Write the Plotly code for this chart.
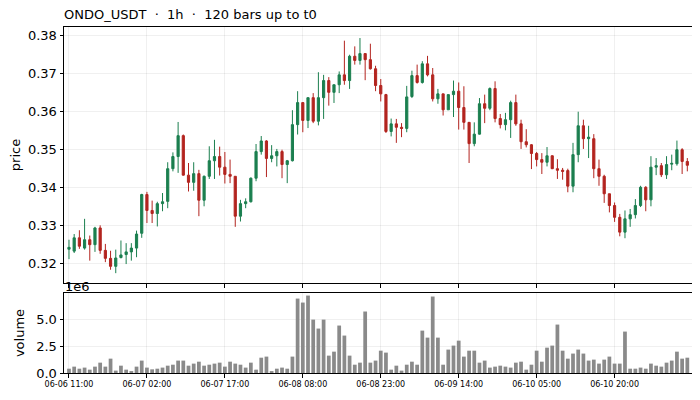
import plotly.graph_objects as go
from plotly.subplots import make_subplots
import pandas as pd

# hourly bars, 120 of them, starting 06-06 11:00
times = pd.date_range("2024-06-06 11:00", periods=120, freq="h")

opens = [
    0.3238, 0.3233, 0.3268, 0.3241, 0.3263, 0.3250, 0.3294, 0.3235, 0.3214, 0.3193,
    0.3216, 0.3224, 0.3231, 0.3241, 0.3280, 0.3382, 0.3340, 0.3332, 0.3358, 0.3364,
    0.3450, 0.3482, 0.3537, 0.3433, 0.3414, 0.3437, 0.3367, 0.3430, 0.3471, 0.3482,
    0.3454, 0.3435, 0.3430, 0.3325, 0.3358, 0.3363, 0.3425, 0.3495, 0.3523, 0.3477,
    0.3484, 0.3495, 0.3461, 0.3471, 0.3566, 0.3624, 0.3577, 0.3637, 0.3575, 0.3637,
    0.3682, 0.3651, 0.3671, 0.3697, 0.3682, 0.3746, 0.3735, 0.3753, 0.3737, 0.3713,
    0.3669, 0.3645, 0.3548, 0.3568, 0.3559, 0.3556, 0.3640, 0.3695, 0.3677, 0.3726,
    0.3697, 0.3634, 0.3647, 0.3605, 0.3645, 0.3654, 0.3611, 0.3572, 0.3516, 0.3541,
    0.3621, 0.3609, 0.3661, 0.3582, 0.3566, 0.3579, 0.3624, 0.3568, 0.3521, 0.3513,
    0.3490, 0.3474, 0.3467, 0.3484, 0.3450, 0.3446, 0.3445, 0.3404, 0.3487, 0.3563,
    0.3529, 0.3529, 0.3450, 0.3430, 0.3384, 0.3353, 0.3322, 0.3283, 0.3318, 0.3329,
    0.3353, 0.3401, 0.3368, 0.3454, 0.3458, 0.3434, 0.3462, 0.3463, 0.3500, 0.3469,
]
highs = [
    0.3263, 0.3278, 0.3288, 0.3318, 0.3274, 0.3297, 0.3301, 0.3252, 0.3234, 0.3237,
    0.3261, 0.3254, 0.3254, 0.3287, 0.3384, 0.3389, 0.3366, 0.3363, 0.3386, 0.3467,
    0.3493, 0.3573, 0.3540, 0.3465, 0.3467, 0.3447, 0.3432, 0.3509, 0.3526, 0.3508,
    0.3494, 0.3474, 0.3430, 0.3368, 0.3372, 0.3427, 0.3515, 0.3536, 0.3525, 0.3512,
    0.3502, 0.3500, 0.3473, 0.3604, 0.3654, 0.3624, 0.3637, 0.3649, 0.3704, 0.3697,
    0.3691, 0.3671, 0.3706, 0.3787, 0.3750, 0.3772, 0.3794, 0.3753, 0.3779, 0.3721,
    0.3686, 0.3647, 0.3582, 0.3581, 0.3570, 0.3668, 0.3708, 0.3724, 0.3733, 0.3747,
    0.3715, 0.3660, 0.3647, 0.3645, 0.3682, 0.3677, 0.3667, 0.3572, 0.3572, 0.3636,
    0.3645, 0.3664, 0.3680, 0.3594, 0.3597, 0.3629, 0.3645, 0.3579, 0.3554, 0.3515,
    0.3494, 0.3491, 0.3507, 0.3485, 0.3475, 0.3452, 0.3450, 0.3518, 0.3600, 0.3579,
    0.3563, 0.3541, 0.3474, 0.3434, 0.3384, 0.3361, 0.3331, 0.3340, 0.3344, 0.3370,
    0.3405, 0.3404, 0.3483, 0.3478, 0.3465, 0.3483, 0.3487, 0.3524, 0.3504, 0.3478,
]
lows = [
    0.3212, 0.3228, 0.3239, 0.3237, 0.3208, 0.3231, 0.3226, 0.3204, 0.3184, 0.3175,
    0.3214, 0.3199, 0.3208, 0.3217, 0.3268, 0.3307, 0.3307, 0.3298, 0.3338, 0.3346,
    0.3443, 0.3439, 0.3432, 0.3390, 0.3392, 0.3325, 0.3351, 0.3423, 0.3423, 0.3432,
    0.3411, 0.3412, 0.3297, 0.3311, 0.3346, 0.3361, 0.3417, 0.3487, 0.3428, 0.3467,
    0.3456, 0.3425, 0.3412, 0.3469, 0.3540, 0.3546, 0.3557, 0.3570, 0.3564, 0.3581,
    0.3616, 0.3623, 0.3649, 0.3671, 0.3660, 0.3724, 0.3724, 0.3683, 0.3711, 0.3654,
    0.3627, 0.3544, 0.3535, 0.3518, 0.3533, 0.3546, 0.3636, 0.3674, 0.3674, 0.3693,
    0.3627, 0.3621, 0.3590, 0.3605, 0.3586, 0.3553, 0.3553, 0.3465, 0.3509, 0.3540,
    0.3570, 0.3604, 0.3572, 0.3556, 0.3551, 0.3531, 0.3563, 0.3502, 0.3506, 0.3449,
    0.3456, 0.3436, 0.3456, 0.3449, 0.3423, 0.3421, 0.3388, 0.3388, 0.3467, 0.3502,
    0.3478, 0.3425, 0.3405, 0.3360, 0.3335, 0.3310, 0.3272, 0.3267, 0.3297, 0.3319,
    0.3349, 0.3338, 0.3351, 0.3433, 0.3428, 0.3423, 0.3446, 0.3458, 0.3436, 0.3443,
]
closes = [
    0.3243, 0.3268, 0.3246, 0.3263, 0.3250, 0.3294, 0.3235, 0.3214, 0.3193, 0.3215,
    0.3223, 0.3231, 0.3241, 0.3278, 0.3382, 0.3340, 0.3332, 0.3358, 0.3363, 0.3450,
    0.3482, 0.3537, 0.3433, 0.3414, 0.3437, 0.3367, 0.3430, 0.3471, 0.3482, 0.3454,
    0.3435, 0.3430, 0.3325, 0.3358, 0.3363, 0.3425, 0.3495, 0.3523, 0.3477, 0.3484,
    0.3495, 0.3461, 0.3471, 0.3566, 0.3624, 0.3577, 0.3637, 0.3575, 0.3637, 0.3682,
    0.3651, 0.3671, 0.3697, 0.3682, 0.3746, 0.3735, 0.3753, 0.3737, 0.3713, 0.3669,
    0.3647, 0.3548, 0.3568, 0.3559, 0.3556, 0.3639, 0.3695, 0.3677, 0.3726, 0.3697,
    0.3634, 0.3647, 0.3605, 0.3645, 0.3654, 0.3611, 0.3572, 0.3516, 0.3541, 0.3621,
    0.3609, 0.3661, 0.3582, 0.3566, 0.3579, 0.3624, 0.3568, 0.3521, 0.3513, 0.3490,
    0.3474, 0.3467, 0.3484, 0.3450, 0.3446, 0.3443, 0.3404, 0.3487, 0.3563, 0.3529,
    0.3533, 0.3450, 0.3430, 0.3384, 0.3353, 0.3322, 0.3283, 0.3318, 0.3329, 0.3353,
    0.3401, 0.3368, 0.3454, 0.3458, 0.3434, 0.3461, 0.3464, 0.3500, 0.3469, 0.3459,
]
volumes_m = [
    0.40, 0.59, 0.40, 0.50, 0.31, 0.59, 0.96, 0.59, 1.33, 0.22,
    0.68, 0.31, 0.12, 0.59, 1.15, 0.50, 0.34, 0.40, 0.50, 0.68,
    0.77, 1.15, 1.15, 0.68, 0.87, 1.05, 0.68, 0.77, 0.87, 0.96,
    0.59, 1.05, 0.87, 0.77, 0.50, 0.96, 0.31, 1.42, 1.52, 0.12,
    0.40, 0.50, 0.40, 1.52, 6.90, 6.53, 7.18, 4.95, 4.12, 4.95,
    1.61, 1.98, 4.40, 3.47, 1.61, 0.77, 0.96, 5.70, 0.96, 1.15,
    2.07, 1.89, 0.31, 0.68, 0.22, 0.77, 1.05, 0.77, 3.93, 3.28,
    7.09, 3.28, 0.77, 2.17, 2.54, 3.00, 1.52, 2.07, 2.07, 0.96,
    1.15, 0.50, 0.59, 0.68, 0.59, 0.50, 0.96, 1.05, 0.31, 0.77,
    2.07, 1.05, 2.35, 2.54, 4.49, 2.07, 1.33, 1.80, 2.17, 1.80,
    1.15, 1.24, 0.87, 1.24, 1.52, 0.87, 0.87, 3.84, 0.40, 0.40,
    0.50, 0.40, 0.87, 0.68, 0.59, 0.96, 1.15, 1.98, 1.33, 1.42,
]

up_color = "#1b7f4f"
down_color = "#b3241f"
vol_color = "#8a8a8a"
font_family = "DejaVu Sans"

idx = list(range(len(times)))
volumes = [v * 1e6 for v in volumes_m]
tick_pos = idx[::15]
tick_text = [times[i].strftime("%m-%d %H:%M") for i in tick_pos]

fig = make_subplots(rows=2, cols=1, shared_xaxes=True, vertical_spacing=0.029,
                    row_heights=[0.74, 0.231])

fig.add_trace(go.Candlestick(
    x=idx, open=opens, high=highs, low=lows, close=closes,
    increasing=dict(line=dict(color=up_color, width=1), fillcolor=up_color),
    decreasing=dict(line=dict(color=down_color, width=1), fillcolor=down_color),
    whiskerwidth=0, showlegend=False, hoverinfo="skip",
), row=1, col=1)

fig.add_trace(go.Bar(
    x=idx, y=volumes, marker=dict(color=vol_color, line=dict(width=0)),
    width=0.72, showlegend=False,
), row=2, col=1)

axis_style = dict(showline=True, linecolor="black", linewidth=1, mirror=True,
                  ticks="outside", ticklen=3.5, tickcolor="black",
                  showgrid=True, gridcolor="rgba(0,0,0,0.06)", gridwidth=1,
                  zeroline=False, automargin=False)

fig.update_xaxes(axis_style, range=[-0.96, 119.9], tickvals=tick_pos, ticktext=tick_text,
                 rangeslider_visible=False)
fig.update_xaxes(showticklabels=False, row=1, col=1)
fig.update_xaxes(tickfont=dict(size=8, family=font_family, color="black"), row=2, col=1)

fig.update_yaxes(axis_style)
fig.update_yaxes(range=[0.3149, 0.3823], tickvals=[0.32, 0.33, 0.34, 0.35, 0.36, 0.37, 0.38],
                 tickformat=".2f", tickfont=dict(size=13, family=font_family, color="black"),
                 title=dict(text="price", font=dict(size=13, family=font_family, color="black"),
                            standoff=8),
                 row=1, col=1)
fig.update_yaxes(range=[0, 7.41e6], tickvals=[0, 2.5e6, 5e6], ticktext=["0.0", "2.5", "5.0"],
                 tickfont=dict(size=13, family=font_family, color="black"),
                 title=dict(text="volume", font=dict(size=13, family=font_family, color="black"),
                            standoff=8),
                 row=2, col=1)

fig.add_annotation(text="1e6", xref="paper", yref="paper", x=0, y=0.232,
                   xanchor="left", yanchor="bottom", showarrow=False, xshift=-1, yshift=-3,
                   font=dict(size=13, family=font_family, color="black"))

# the page puts the figure 8px in from the top-left corner, so margins are offset by that
fig.update_layout(
    width=700, height=400,
    margin=dict(l=56, r=16, t=19, b=35),
    paper_bgcolor="white", plot_bgcolor="white",
    boxgap=0.4, bargap=0.28,
    title=dict(text="ONDO_USDT  \u00b7  1h  \u00b7  120 bars up to t0", x=56 / 700, xanchor="left",
               y=1 - 6 / 400, yanchor="middle", automargin=False,
               font=dict(size=13, family=font_family, color="black")),
)

fig.write_html("out.html")
